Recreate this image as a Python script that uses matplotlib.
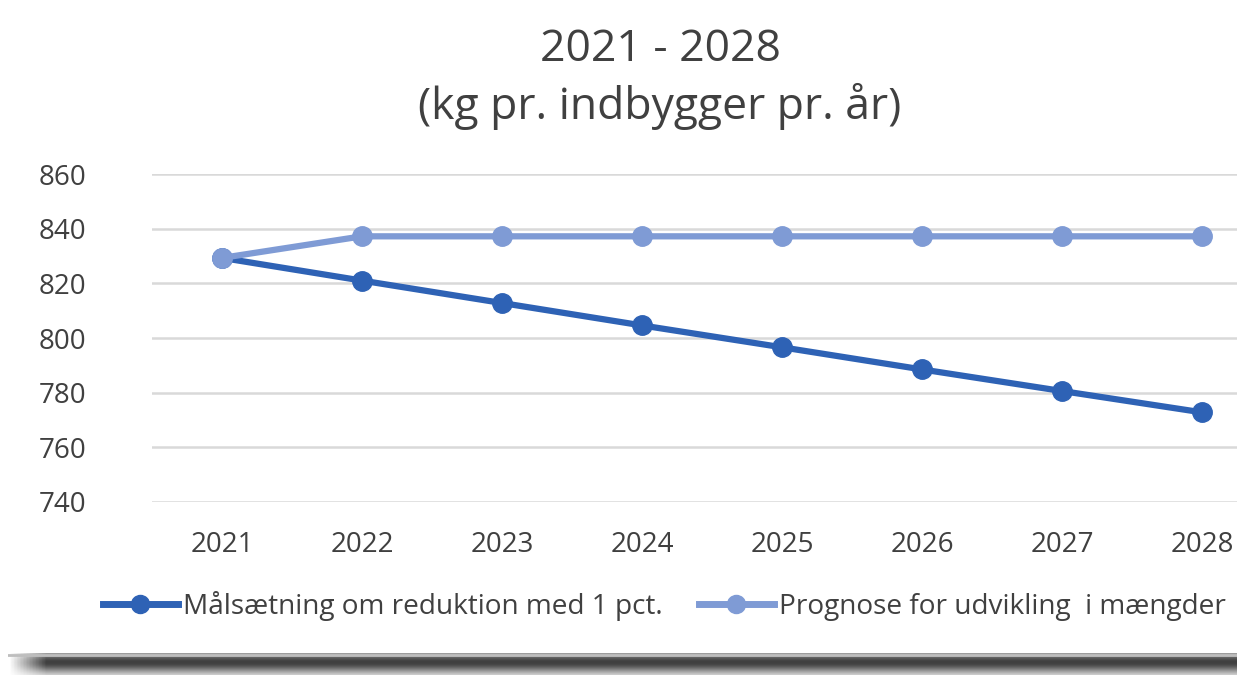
import numpy as np
from matplotlib import pyplot as plt
from matplotlib.lines import Line2D

years = ['2021', '2022', '2023', '2024', '2025', '2026', '2027', '2028']
maal = [829.3, 821.0, 812.8, 804.6, 796.6, 788.5, 780.6, 772.8]
prognose = [829.3, 837.2, 837.2, 837.2, 837.2, 837.2, 837.2, 837.2]
yticks = [740, 760, 780, 800, 820, 840, 860]
labels = ['Målsætning om reduktion med 1 pct.', 'Prognose for udvikling  i mængder']

dark = '#2E62B5'
light = '#7F9BD5'
txt = '#404040'

plt.rcParams['font.family'] = ['Open Sans', 'DejaVu Sans']

fig = plt.figure(figsize=(12.37, 6.75), dpi=100)
fig.patch.set_facecolor('white')

# axes runs past the right edge, like the cropped original
ax = fig.add_axes([152/1237, 1-502/675, 1120/1237, 328/675])
x = np.arange(len(years))
ax.plot(x, maal, '-o', color=dark, lw=4.5, ms=14, zorder=3, solid_capstyle='round')
ax.plot(x, prognose, '-o', color=light, lw=4.5, ms=14, zorder=4, solid_capstyle='round')
ax.set_xlim(-0.5, len(years) - 0.5)
ax.set_ylim(740, 860)
ax.set_yticks(yticks)
ax.set_xticks(x)
ax.set_xticklabels(years)
ax.grid(axis='y', color='#D9D9D9', lw=1.8)
ax.set_axisbelow(True)
for s in ax.spines.values():
    s.set_visible(False)
ax.tick_params(length=0, labelsize=20, colors=txt)
ax.tick_params(axis='y', pad=47)
ax.tick_params(axis='x', pad=21)

fig.text(660/1237, 1-50/675, '2021 - 2028', ha='center', va='center', fontsize=32, color=txt)
fig.text(660/1237, 1-106/675, '(kg pr. indbygger pr. år)', ha='center', va='center', fontsize=32, color=txt)

handles = [Line2D([], [], color=dark, lw=5, marker='o', ms=13),
           Line2D([], [], color=light, lw=5, marker='o', ms=13)]
fig.legend(handles, labels, loc='center', bbox_to_anchor=(664/1237, 1-606/675), ncol=2,
           frameon=False, fontsize=20.2, handlelength=2.7, handletextpad=0.15, columnspacing=1.3,
           labelcolor=txt)

# drop shadow along the bottom
sh = fig.add_axes([8/1237, 0, 1, 22/675])
yy = np.linspace(0, 1, 40)[:, None]
xx = np.linspace(0, 1, 400)[None, :]
dens = np.exp(-((yy - 0.42) / 0.5) ** 2) * np.clip(xx / 0.03, 0, 1)
sh.imshow(1 - 0.75 * dens, cmap='gray', vmin=0, vmax=1, aspect='auto', extent=[0, 1, 0, 1])
sh.axhline(0.93, color='#BEBEBE', lw=2)
sh.set_xlim(0, 1)
sh.set_ylim(0, 1)
sh.set_axis_off()

fig.savefig('out.png', dpi=100)
